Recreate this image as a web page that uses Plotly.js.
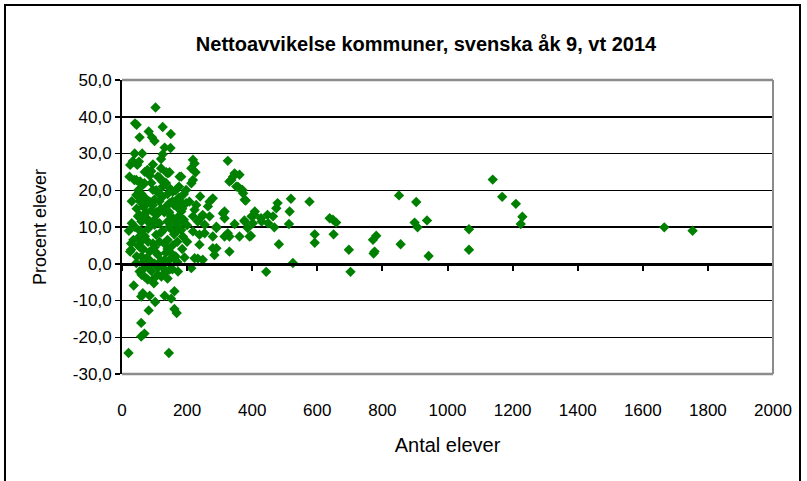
<!DOCTYPE html>
<html>
<head>
<meta charset="utf-8">
<script src="https://cdn.plot.ly/plotly-3.0.1.min.js"></script>
<style>
  html, body { margin: 0; padding: 0; background: #fff; }
  #chart { width: 807px; height: 481px; }
</style>
</head>
<body>
<div id="chart"></div>
<script>
// Antal elever (x) per kommun
var antalElever = [
  103,45,40,125,82,150,54,92,100,131,149,39,62,125,120,33,52,25,47,218,223,213,78,90,120,136,146,226,23,38,54,69,110,141,177,131,124,218,213,95,175,148,197,325,346,336,341,330,356,351,366,361,370,64,56,44,115,182,
  44,125,156,240,279,269,228,207,85,146,167,79,100,197,182,264,372,380,377,474,478,519,515,576,60,30,110,170,135,65,
  182,54,76,105,218,243,315,315,49,110,223,248,269,310,233,254,290,346,377,407,408,398,376,402,427,429,447,449,464,513,638,648,658,904,899,937,1168,1210,1230,1225,1139,851,100,140,160,30,90,130,60,190,200,150,
  21,59,49,105,172,187,218,238,182,254,279,325,330,361,392,238,290,315,386,396,468,482,592,592,650,771,781,856,908,1066,1666,1753,59,80,120,140,160,35,70,95,130,150,200,28,
  25,28,85,290,284,330,279,223,248,192,233,525,697,776,773,942,1066,44,90,60,110,130,150,170,100,75,140,55,120,160,
  213,172,146,121,95,54,69,79,98,36,59,85,64,131,151,161,102,82,161,168,59,69,59,20,144,443,702,110,130,80,
  50,70,90,105,115,125,140,155,165,175,190,45,55,75,95,120,145,160,175,185,40,55,65,85,100,115,125,145,165,180,50,65,80,105,115,135,155,170,185,45,65,85,100,125,145,165,70,90,110,140,155,60,105,115,135,85,70,95
];
// Procent elever (y) per kommun
var procentElever = [
  42.5,37.8,38.2,37.2,36.0,35.3,34.4,34.4,33.4,31.6,31.5,30.0,30.0,29.8,28.5,27.9,27.8,26.9,26.9,28.3,27.3,26.0,25.5,25.2,26.0,24.9,24.9,24.9,23.7,22.8,22.1,21.9,23.7,24.6,23.7,22.1,22.4,22.8,21.9,20.1,21.0,20.4,20.1,28.0,24.6,22.8,23.7,22.4,21.0,21.0,20.1,24.2,20.1,21.5,22.4,22.8,23.5,23.7,
  18.7,18.3,19.6,18.3,17.8,16.9,16.0,16.9,16.9,16.5,15.6,16.5,17.5,16.5,16.9,15.6,19.2,17.2,17.4,15.1,16.5,17.7,14.2,16.9,19.0,17.0,19.5,17.5,15.5,15.5,
  14.2,13.3,12.4,13.3,12.9,12.6,14.2,12.4,12.9,13.7,14.7,13.3,12.9,13.7,11.5,10.6,10.1,10.8,11.5,13.3,14.2,12.9,11.8,11.0,12.4,11.5,13.3,11.0,12.9,10.8,12.4,12.0,11.2,16.8,11.2,11.8,18.2,16.3,12.8,10.8,22.9,18.6,10.6,11.5,12.0,11.0,14.5,14.0,11.5,12.0,10.5,13.0,
  9.0,8.8,7.0,7.9,9.2,7.4,8.8,5.2,9.2,8.3,7.4,8.3,7.4,7.4,7.4,7.9,9.7,7.4,9.7,7.6,9.9,5.3,8.0,5.7,8.0,6.5,7.6,5.3,9.9,9.4,9.9,9.0,6.1,9.5,8.5,6.5,8.0,6.5,7.5,5.5,5.5,9.5,6.0,5.5,
  3.3,3.8,3.3,4.2,2.4,3.3,4.2,1.5,1.1,1.7,1.4,0.2,3.8,3.3,2.8,2.1,3.8,0.2,0.2,2.0,2.5,1.0,3.0,0.5,4.5,1.5,4.0,4.5,0.8,1.5,
  -1.2,-2.1,-1.6,-3.5,-4.3,-2.1,-3.5,-4.3,-5.3,-5.9,-8.9,-8.7,-8.0,-8.7,-9.5,-7.5,-10.4,-12.7,-12.3,-13.4,-16.1,-19.0,-19.8,-24.3,-24.3,-2.2,-2.2,-1.0,-2.5,-0.8,
  20,18,22,20,17,21,19,17,20,18,19,15,17,14,16,15,14,16,13,15,10,9,13,11,12,11,9,10,11,11,5,4,6,3,6,3,5,6,4,2,0.5,1,0,-1,1,2,-1,-2,-3,-4,-1.5,-3,14,19,22,24,25,27
];
var xTickVals = [0,200,400,600,800,1000,1200,1400,1600,1800,2000];
var yTickVals = [-30,-20,-10,0,10,20,30,40,50];
var yTickText = ['-30,0','-20,0','-10,0','0,0','10,0','20,0','30,0','40,0','50,0'];
var chartTitle = 'Nettoavvikelse kommuner, svenska åk 9, vt 2014';
var xTitle = 'Antal elever';
var yTitle = 'Procent elever';

var FONT = 'Liberation Sans, Arial, sans-serif';
var green = '#008000';

var traces = [
  {
    type: 'scatter', mode: 'markers',
    x: antalElever, y: procentElever,
    xaxis: 'x', yaxis: 'y',
    marker: { symbol: 'diamond', size: 8, color: green, line: { width: 0 } },
    hoverinfo: 'x+y'
  },
  {
    type: 'scatter', mode: 'markers', x: [null], y: [null],
    xaxis: 'x2', yaxis: 'y', hoverinfo: 'skip', showlegend: false
  }
];

var W = 651, H = 294, L = 122, T = 80;
function px2x(p) { return (p - L) / W; }
function py2y(p) { return (T + H - p) / H; }

var layout = {
  width: 807, height: 481,
  paper_bgcolor: '#ffffff', plot_bgcolor: '#ffffff',
  margin: { l: 122, r: 34, t: 80, b: 107, pad: 0 },
  showlegend: false,
  font: { family: FONT, color: '#000', size: 17 },
  title: {
    text: '<b>' + chartTitle + '</b>',
    font: { family: FONT, size: 20, color: '#000' },
    xref: 'container', x: 426 / 807, xanchor: 'center',
    yref: 'container', y: 1 - 44 / 481, yanchor: 'middle'
  },
  xaxis: {
    range: [0, 2000], tickvals: xTickVals, ticktext: xTickVals.map(String),
    ticks: 'outside', ticklen: 21, tickcolor: 'rgba(0,0,0,0)',
    showline: false, showgrid: false, zeroline: false,
    tickfont: { family: FONT, size: 17, color: '#000' },
    title: { text: xTitle, font: { family: FONT, size: 20, color: '#000' }, standoff: 18 },
    fixedrange: true
  },
  xaxis2: {
    overlaying: 'x', anchor: 'free', position: 0.375, side: 'bottom',
    range: [0, 2000], tickvals: xTickVals,
    ticks: 'outside', ticklen: 5, tickwidth: 2, tickcolor: '#000',
    showline: true, linecolor: '#000', linewidth: 3,
    showticklabels: false, showgrid: false, zeroline: false, fixedrange: true
  },
  yaxis: {
    range: [-30, 50], tickvals: yTickVals, ticktext: yTickText,
    ticks: 'outside', ticklen: 5, tickwidth: 1.5, tickcolor: '#000',
    showline: true, linecolor: '#000', linewidth: 2,
    showgrid: true, gridcolor: '#000', gridwidth: 1.5, zeroline: false,
    tickfont: { family: FONT, size: 17, color: '#000' },
    title: { text: yTitle, font: { family: FONT, size: 18, color: '#000' }, standoff: 22 },
    fixedrange: true
  },
  shapes: [
    { type: 'line', xref: 'paper', yref: 'paper', x0: 0, x1: 1, y0: 1, y1: 1, line: { color: '#8c8c8c', width: 2.5 }, layer: 'above' },
    { type: 'line', xref: 'paper', yref: 'paper', x0: 1, x1: 1, y0: 0, y1: 1, line: { color: '#8c8c8c', width: 2 }, layer: 'above' },
    { type: 'line', xref: 'paper', yref: 'paper', x0: 0, x1: 1, y0: 0, y1: 0, line: { color: '#8c8c8c', width: 2.5 }, layer: 'above' },
    { type: 'rect', xref: 'paper', yref: 'paper', x0: px2x(5), x1: px2x(800), y0: py2y(484), y1: py2y(5), line: { color: '#000', width: 2 }, fillcolor: 'rgba(0,0,0,0)', layer: 'above' }
  ]
};

Plotly.newPlot('chart', traces, layout, { displayModeBar: false, staticPlot: true });
</script>
</body>
</html>
